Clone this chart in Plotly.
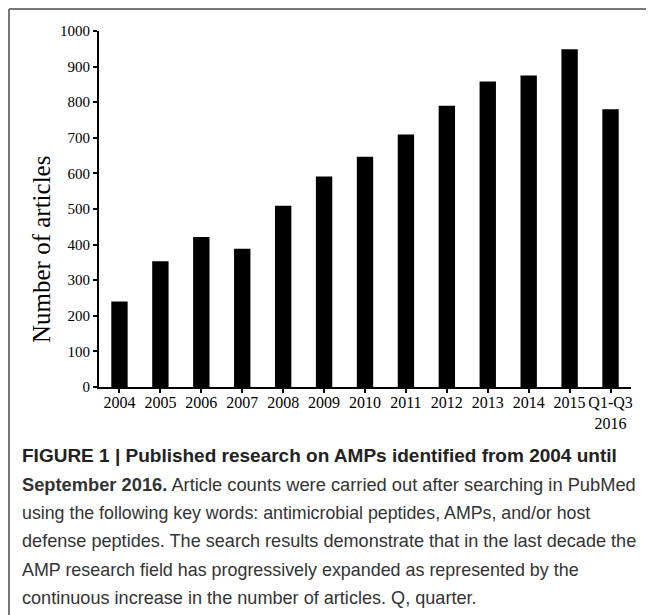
import plotly.graph_objects as go

categories = ["2004", "2005", "2006", "2007", "2008", "2009", "2010", "2011",
              "2012", "2013", "2014", "2015", "Q1-Q3<br>2016"]
articles = [240, 353, 421, 388, 509, 591, 647, 709, 790, 858, 875, 949, 780]
y_ticks = [0, 100, 200, 300, 400, 500, 600, 700, 800, 900, 1000]

caption_lines = [
    "<b>FIGURE 1 | Published research on AMPs identified from 2004 until</b>",
    "<b>September 2016.</b> Article counts were carried out after searching in PubMed",
    "using the following key words: antimicrobial peptides, AMPs, and/or host",
    "defense peptides. The search results demonstrate that in the last decade the",
    "AMP research field has progressively expanded as represented by the",
    "continuous increase in the number of articles. Q, quarter.",
]
caption_sizes = [19, 18.3, 17.8, 18.1, 17.9, 18.1]

OFF = 8  # browser default body margin
W, H = 654 - OFF, 615 - OFF
L, R, T, B = 99 - OFF, 23, 31 - OFF, 228
pw = W - L - R
ph = H - T - B

def px_x(xp):
    return (xp - OFF - L) / pw

def px_y(yp):
    return (H - B - (yp - OFF)) / ph

fig = go.Figure()
fig.add_trace(go.Bar(x=list(range(len(categories))), y=articles,
                     marker=dict(color="black", line=dict(width=0)),
                     width=0.4))

fig.update_layout(
    width=W, height=H,
    margin=dict(l=L, r=R, t=T, b=B),
    paper_bgcolor="white", plot_bgcolor="white",
    showlegend=False,
    font=dict(family="Liberation Serif", size=15, color="black"),
)
fig.update_xaxes(
    tickmode="array", tickvals=list(range(len(categories))), ticktext=categories,
    range=[-0.5, len(categories) - 0.5],
    showline=True, linecolor="black", linewidth=2,
    ticks="outside", ticklen=4, tickwidth=1.5, tickcolor="black",
    showgrid=False, zeroline=False,
    tickfont=dict(family="Liberation Serif", size=16),
    tickson="boundaries", ticklabelstandoff=-4,
)
fig.update_yaxes(
    range=[0, 1000], tickmode="array", tickvals=y_ticks,
    showline=True, linecolor="black", linewidth=2,
    ticks="outside", ticklen=4, tickwidth=1.5, tickcolor="black",
    showgrid=False, zeroline=False,
    tickfont=dict(family="Liberation Serif", size=15),
)

fig.add_annotation(text="Number of articles", textangle=-90,
                   xref="paper", yref="paper", x=px_x(41), y=px_y(250),
                   xanchor="center", yanchor="middle", showarrow=False,
                   font=dict(family="Liberation Serif", size=25, color="black"))

# frame lines
fig.add_shape(type="line", xref="paper", yref="paper",
              x0=px_x(OFF + 1), x1=px_x(OFF + 1), y0=px_y(OFF + 1), y1=px_y(615),
              line=dict(color="#777777", width=2))
fig.add_shape(type="line", xref="paper", yref="paper",
              x0=px_x(OFF + 1), x1=px_x(654), y0=px_y(OFF + 1), y1=px_y(OFF + 1),
              line=dict(color="#777777", width=2))

line_y = [455, 484, 513, 541, 570, 598]
for i, (txt, yy, fs) in enumerate(zip(caption_lines, line_y, caption_sizes)):
    fig.add_annotation(text=txt, xref="paper", yref="paper",
                       x=px_x(20), y=px_y(yy), xanchor="left", yanchor="middle",
                       showarrow=False,
                       font=dict(family="Liberation Sans", size=fs,
                                 color="#222222" if i == 0 else "#333333"))

fig.write_html("out.html")
